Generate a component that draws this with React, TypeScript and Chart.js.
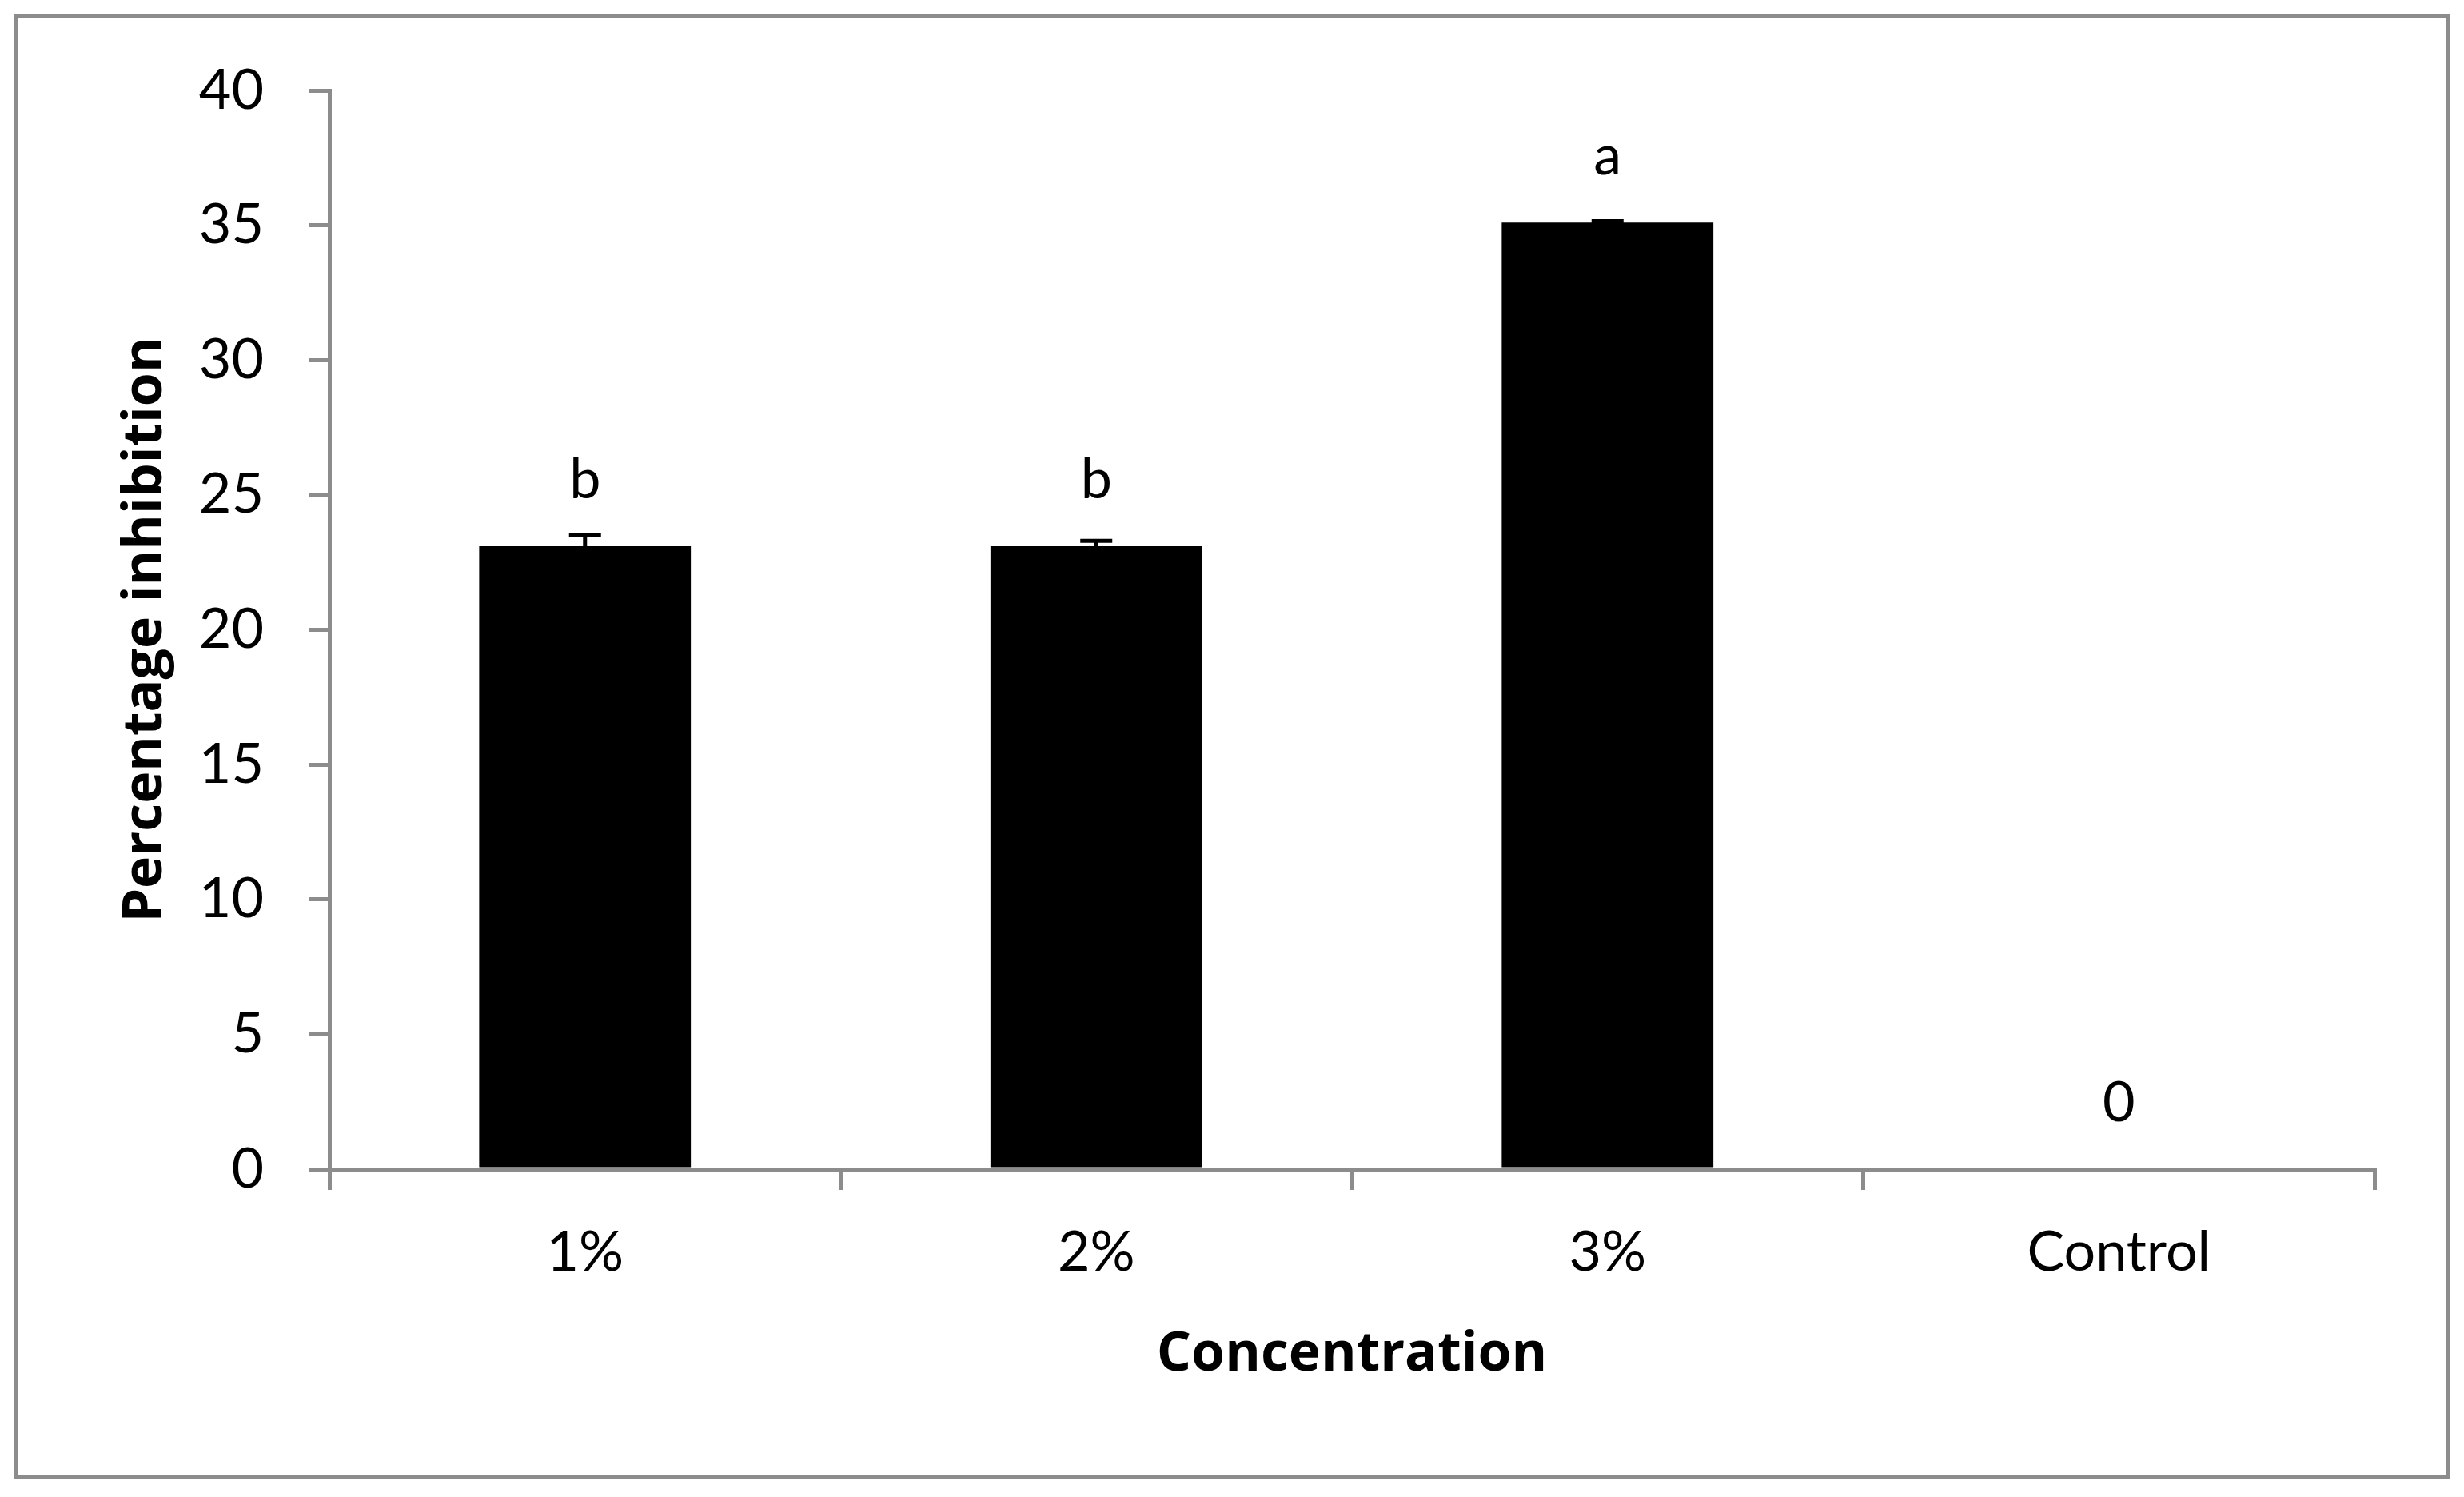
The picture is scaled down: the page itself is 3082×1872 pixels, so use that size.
import React, { useEffect, useRef } from "react";
import { Chart, registerables } from "chart.js";

Chart.register(...registerables);

const categories = ["1%", "2%", "3%", "Control"];
const values = [23.1, 23.1, 35.1, 0];
const errors = [0.4, 0.2, 0.05, 0];
const letters = ["b", "b", "a", "0"];
const yTicks = [0, 5, 10, 15, 20, 25, 30, 35, 40];

const GRAY = "#8c8c8c";
const FONT = "Lato";
const TITLE_FONT = "'Open Sans'";

const bgPlugin = {
  id: "bg",
  beforeDraw(chart: any) {
    const ctx = chart.ctx;
    ctx.save();
    ctx.fillStyle = "#ffffff";
    ctx.fillRect(0, 0, chart.width, chart.height);
    ctx.restore();
  },
  afterDraw(chart: any) {
    const ctx = chart.ctx;
    ctx.save();
    ctx.strokeStyle = GRAY;
    ctx.lineWidth = 5;
    ctx.strokeRect(20.5, 20.5, chart.width - 41, chart.height - 45);
    ctx.restore();
  },
};

const errPlugin = {
  id: "errbars",
  afterDatasetsDraw(chart: any) {
    const ctx = chart.ctx;
    const meta = chart.getDatasetMeta(0);
    const ys = chart.scales.y;
    ctx.save();
    meta.data.forEach((bar: any, i: number) => {
      const x = bar.x;
      if (errors[i] > 0) {
        const yTop = ys.getPixelForValue(values[i] + errors[i]);
        const yBot = ys.getPixelForValue(values[i] - errors[i]);
        ctx.strokeStyle = "#000";
        ctx.lineWidth = 5;
        ctx.beginPath();
        ctx.moveTo(x, yBot);
        ctx.lineTo(x, yTop);
        ctx.moveTo(x - 20, yTop);
        ctx.lineTo(x + 20, yTop);
        ctx.stroke();
      }
      const yv = ys.getPixelForValue(values[i]);
      ctx.fillStyle = "#000";
      ctx.font = `70px ${FONT}`;
      ctx.textAlign = "center";
      ctx.textBaseline = "alphabetic";
      ctx.fillText(letters[i], x, yv - 60);
    });
    ctx.restore();
  },
};

export default function App() {
  const ref = useRef<HTMLCanvasElement>(null);
  useEffect(() => {
    if (!ref.current) return;
    const chart = new Chart(ref.current, {
      type: "bar",
      data: {
        labels: categories,
        datasets: [
          {
            data: values,
            backgroundColor: "#000",
            borderWidth: 0,
            categoryPercentage: 1,
            barPercentage: 0.414,
          },
        ],
      },
      options: {
        animation: false,
        responsive: true,
        maintainAspectRatio: false,
        devicePixelRatio: 1,
        layout: { padding: { left: 0, top: 113, right: 112, bottom: 0 } },
        plugins: {
          legend: { display: false },
          tooltip: { enabled: false },
        },
        scales: {
          x: {
            grid: {
              display: true,
              drawOnChartArea: false,
              drawTicks: true,
              tickLength: 26,
              color: GRAY,
              lineWidth: 5,
              offset: true,
            },
            border: { display: true, color: GRAY, width: 5 },
            ticks: {
              color: "#000",
              font: { family: FONT, size: 70 },
              padding: 36,
            },
            title: {
              display: true,
              text: "Concentration",
              color: "#000",
              font: { family: TITLE_FONT, size: 68, weight: "bold" },
              padding: { top: 0, bottom: 137 },
            },
            afterFit(scale: any) {
              scale.height = 410;
            },
          },
          y: {
            min: 0,
            max: 40,
            afterBuildTicks(scale: any) {
              scale.ticks = yTicks.map((v) => ({ value: v }));
            },
            grid: {
              display: true,
              drawOnChartArea: false,
              drawTicks: true,
              tickLength: 26,
              color: GRAY,
              lineWidth: 5,
            },
            border: { display: true, color: GRAY, width: 5 },
            ticks: {
              color: "#000",
              font: { family: FONT, size: 70 },
              padding: 56,
            },
            title: {
              display: true,
              text: "Percentage inhibition",
              color: "#000",
              font: { family: TITLE_FONT, size: 68, weight: "bold" },
              padding: { top: 142, bottom: 0 },
            },
            afterFit(scale: any) {
              scale.width = 412;
            },
          },
        },
      },
      plugins: [bgPlugin, errPlugin],
    } as any);
    return () => chart.destroy();
  }, []);
  return (
    <div style={{ position: "fixed", left: 0, top: 0, width: 3082, height: 1872, background: "#fff" }}>
      <canvas ref={ref} />
    </div>
  );
}
